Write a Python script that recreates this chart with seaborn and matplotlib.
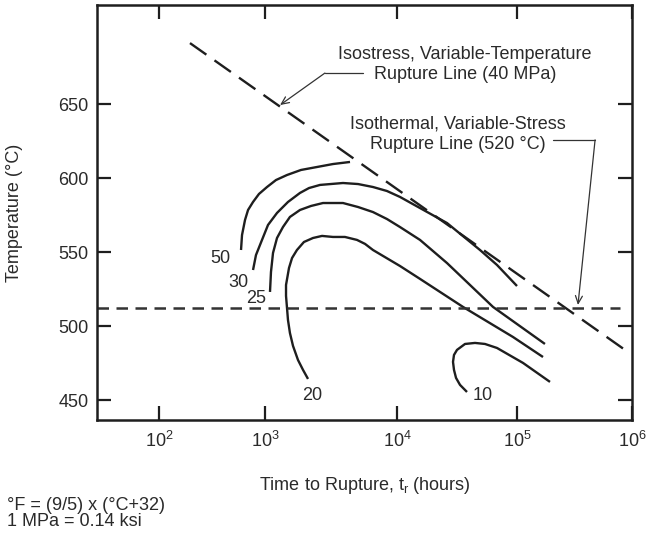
import numpy as np
import pandas as pd
import matplotlib
matplotlib.use("Agg")
import matplotlib.pyplot as plt
from matplotlib.lines import Line2D
import seaborn as sns

# ---------------- data ----------------
stress_labels = ["50", "30", "25", "20", "10"]

t50 = [594, 607, 648, 692, 771, 877, 1036, 1211, 1468, 1874, 2477, 3273, 4406]
T50 = [551.5, 561.6, 571.8, 578.5, 583.9, 589.3, 594.0, 598.7, 602.1, 605.5, 607.5, 609.5, 610.9]

t30 = [771, 822, 937, 1054, 1233, 1493, 1841, 2154, 2610, 3899, 5070, 6577, 8395,
       10590, 15550, 26100, 49170, 68130, 100000]
T30 = [538.0, 548.1, 558.3, 568.4, 576.5, 583.9, 590.0, 593.3, 595.4, 596.7, 596.0, 594.0, 591.3,
       587.3, 579.8, 569.7, 551.5, 541.4, 527.2]

t25 = [1091, 1110, 1150, 1233, 1368, 1545, 1841, 2230, 2750, 3899, 5070, 6577, 8395,
       10590, 15550, 26100, 63100, 175000]
T25 = [523.2, 536.7, 549.5, 559.6, 567.0, 573.8, 578.5, 581.2, 583.2, 583.2, 580.5, 577.1, 572.4,
       567.0, 558.3, 542.7, 513.1, 488.1]

t20 = [2118, 1941, 1778, 1630, 1545, 1493, 1468, 1443, 1443, 1520, 1603, 1746, 1972, 2310, 2704,
       3273, 4033, 4977, 5728, 6577, 10590, 15550, 35480, 92640, 168300]
T20 = [464.5, 470.6, 477.3, 486.8, 495.5, 504.3, 512.4, 520.5, 527.9, 539.4, 546.1, 551.5, 556.9,
       559.6, 561.0, 560.3, 560.3, 558.3, 555.6, 551.5, 540.7, 532.0, 513.1, 492.8, 479.3]

t10 = [38310, 33500, 31040, 29850, 29290, 29850, 31620, 36880, 44670, 54100, 68130, 112800, 193600]
T10 = [455.7, 460.5, 465.2, 470.6, 476.0, 480.7, 484.1, 488.1, 488.8, 488.1, 485.4, 475.3, 462.5]

isostress_t = [196, 869000]
isostress_T = [691.1, 484.1]
isothermal_T = 512.4

label_t = [376, 556, 822, 2270, 52100]
label_T = [546.1, 529.3, 519.1, 453.0, 453.0]

x_ticks = [1e2, 1e3, 1e4, 1e5, 1e6]
x_ticklabels = [r"$\mathregular{10^{2}}$", r"$\mathregular{10^{3}}$", r"$\mathregular{10^{4}}$",
                r"$\mathregular{10^{5}}$", r"$\mathregular{10^{6}}$"]
y_ticks = [450, 500, 550, 600, 650]

# ---------------- style ----------------
sns.set_style("ticks")
plt.rcParams["font.family"] = ["Liberation Sans", "DejaVu Sans"]
plt.rcParams["mathtext.fontset"] = "custom"
plt.rcParams["mathtext.rm"] = "Liberation Sans"
plt.rcParams["mathtext.it"] = "Liberation Sans"
TXT = "#2a2a2a"
LN = "#1e1e1e"
FS = 13

fig = plt.figure(figsize=(6.5, 5.35), dpi=100)
ax = fig.add_axes([97 / 650, 1 - 420 / 535, 535 / 650, 415 / 535])

# the reference's decade spacing is uneven; reproduce it with a piecewise log scale
_dec = np.array([0.0, 1.415, 2, 3, 4, 5, 6, 7])
_pos = np.array([97 - 1.415 * 106, 97, 159, 265, 397, 517, 632, 747], float)

def _fwd(x):
    x = np.asarray(x, float)
    return np.interp(np.log10(np.clip(x, 1e-300, None)), _dec, _pos)

def _inv(p):
    return 10 ** np.interp(np.asarray(p, float), _pos, _dec)

ax.set_xscale("function", functions=(_fwd, _inv))

curves = [(t50, T50), (t30, T30), (t25, T25), (t20, T20), (t10, T10)]
for lab, (t, T) in zip(stress_labels, curves):
    df = pd.DataFrame({"t": t, "T": T})
    sns.lineplot(data=df, x="t", y="T", sort=False, estimator=None, ax=ax,
                 color=LN, lw=1.7, solid_capstyle="butt", solid_joinstyle="round")

# isostress rupture line
df_iso = pd.DataFrame({"t": isostress_t, "T": isostress_T})
sns.lineplot(data=df_iso, x="t", y="T", sort=False, estimator=None, ax=ax, color=LN, lw=1.7)
ax.lines[-1].set_dashes([8.5, 4.2])

# isothermal line
ax.axhline(isothermal_T, xmin=0, xmax=0.978, color="#333333", lw=1.8, dashes=(4.6, 3.0))

for lab, t, T in zip(stress_labels, label_t, label_T):
    ax.text(t, T, lab, ha="center", va="center", fontsize=FS, color=TXT)

# annotations
ax.text(0.688, 0.856, "Isostress, Variable-Temperature\nRupture Line (40 MPa)",
        transform=ax.transAxes, ha="center", va="center", fontsize=FS, color=TXT,
        linespacing=1.25, multialignment="center")
ax.text(0.675, 0.689, "Isothermal, Variable-Stress\nRupture Line (520 \u00b0C)",
        transform=ax.transAxes, ha="center", va="center", fontsize=FS, color=TXT,
        linespacing=1.25, multialignment="center")

arrow_kw = dict(arrowstyle="->,head_length=0.55,head_width=0.25", lw=0.9, color="#333333",
                shrinkA=0, shrinkB=0)
ax.annotate("", xy=(1300, 649.3), xycoords="data", xytext=(0.426, 0.836),
            textcoords="axes fraction", arrowprops=arrow_kw)
ax.add_line(Line2D([0.426, 0.497], [0.836, 0.836], transform=ax.transAxes, lw=0.9, color="#333333"))
ax.annotate("", xy=(339000, 514.4), xycoords="data", xytext=(0.931, 0.675),
            textcoords="axes fraction", arrowprops=arrow_kw)
ax.add_line(Line2D([0.852, 0.931], [0.675, 0.675], transform=ax.transAxes, lw=0.9, color="#333333"))

# axes
ax.set_xlim(10 ** 1.415, 1e6)
ax.set_ylim(436.8, 716.8)
ax.set_xticks(x_ticks)
ax.set_xticklabels(x_ticklabels)
ax.xaxis.set_minor_locator(matplotlib.ticker.NullLocator())
ax.set_yticks(y_ticks)
ax.tick_params(axis="both", direction="in", length=10, width=1.6, color=LN,
               labelsize=FS, labelcolor=TXT, top=True, right=True)
ax.tick_params(axis="x", pad=8)
ax.tick_params(axis="y", pad=6)
for s in ax.spines.values():
    s.set_linewidth(1.8)
    s.set_color(LN)
    s.set_visible(True)

ax.set_xlabel(r"Time to Rupture, t$_\mathregular{r}$ (hours)", fontsize=FS, color=TXT)
ax.xaxis.set_label_coords(0.5, -0.133)
ax.set_ylabel("Temperature (\u00b0C)", fontsize=FS, color=TXT)
ax.yaxis.set_label_coords(-0.138, 0.5)

fig.text(7 / 650, 1 - 506 / 535, "\u00b0F = (9/5) x (\u00b0C+32)", ha="left", va="center",
         fontsize=FS, color=TXT)
fig.text(7 / 650, 1 - 522 / 535, "1 MPa = 0.14 ksi", ha="left", va="center",
         fontsize=FS, color=TXT)

fig.savefig("out.png", dpi=100)
